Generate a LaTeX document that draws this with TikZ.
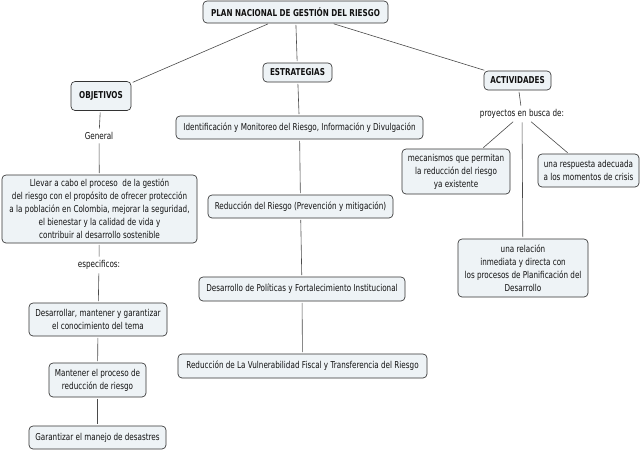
\documentclass[tikz,border=0pt]{standalone}
\usepackage{fontspec}
\setmainfont{DejaVu Sans}[FakeStretch=0.76]
\definecolor{boxfill}{HTML}{EEF3F6}
\definecolor{boxline}{HTML}{333333}
\definecolor{conn}{HTML}{4A4A4A}
\definecolor{txt}{HTML}{111111}
\tikzset{
  cbox/.style={draw=boxline, line width=0.65pt, fill=boxfill, rounded corners=4pt,
    align=center, inner sep=1pt, text=txt, font=\fontsize{9.5}{13}\selectfont},
  hbox/.style={cbox, font=\fontsize{9.5}{13}\selectfont\bfseries},
  lbl/.style={inner sep=2pt, text=txt, font=\fontsize{9.5}{13}\selectfont},
  link/.style={draw=conn, line width=0.6pt, shorten <=1.5pt, shorten >=1.5pt}
}
\begin{document}
\begin{tikzpicture}[x=1pt,y=-1pt]
\useasboundingbox[fill=white] (0,0) rectangle (640,451);
% head nodes
\node[hbox, minimum width=185pt, minimum height=22pt] (top) at (295.5,12) {PLAN NACIONAL DE GESTIÓN DEL RIESGO};
\node[hbox, minimum width=69pt, minimum height=19pt] (estr) at (297.5,72.5) {ESTRATEGIAS};
\node[hbox, minimum width=60pt, minimum height=29pt] (obj) at (101,96) {OBJETIVOS};
\node[hbox, minimum width=67pt, minimum height=19pt] (act) at (517.5,80.5) {ACTIVIDADES};
% objetivos
\node[lbl] (gen) at (99,136) {General};
\node[cbox, minimum width=195pt, minimum height=68pt] (llevar) at (99.5,209) {Llevar a cabo el proceso \ de la gestión\\del riesgo con el propósito de ofrecer protección\\a la población en Colombia, mejorar la seguridad,\\el bienestar y la calidad de vida y\\contribuir al desarrollo sostenible};
\node[lbl] (esp) at (99,265) {especificos:};
\node[cbox, minimum width=138pt, minimum height=33pt] (desa) at (98,319.5) {Desarrollar, mantener y garantizar\\el conocimiento del tema};
\node[cbox, minimum width=97pt, minimum height=34pt] (mant) at (97.5,380) {Mantener el proceso de\\reducción de riesgo};
\node[cbox, minimum width=137pt, minimum height=23pt] (gara) at (97.5,437.5) {Garantizar el manejo de desastres};
% estrategias
\node[cbox, minimum width=247pt, minimum height=23pt] (ident) at (299.5,127.5) {Identificación y Monitoreo del Riesgo, Información y Divulgación};
\node[cbox, minimum width=185pt, minimum height=23pt] (red) at (300.5,206.5) {Reducción del Riesgo (Prevención y mitigación)};
\node[cbox, minimum width=206pt, minimum height=24pt] (pol) at (302,289) {Desarrollo de Políticas y Fortalecimiento Institucional};
\node[cbox, minimum width=249pt, minimum height=24pt] (vul) at (302.5,366) {Reducción de La Vulnerabilidad Fiscal y Transferencia del Riesgo};
% actividades
\node[lbl] (proy) at (522,114) {proyectos en busca de:};
\node[cbox, minimum width=108pt, minimum height=45pt] (meca) at (456,171.5) {mecanismos que permitan\\la reducción del riesgo\\ya existente};
\node[cbox, minimum width=101pt, minimum height=33pt] (resp) at (588.5,170.5) {una respuesta adecuada\\a los momentos de crisis};
\node[cbox, minimum width=130pt, minimum height=58pt] (rel) at (523,268) {una relación\\inmediata y directa con\\los procesos de Planificación del\\Desarrollo};
% connectors
\draw[link] (top) -- (obj);
\draw[link] (top) -- (estr);
\draw[link] (top) -- (act);
\draw[link] (obj) -- (gen);
\draw[link] (gen) -- (llevar);
\draw[link] (llevar) -- (esp);
\draw[link] (esp) -- (desa);
\draw[link] (desa) -- (mant);
\draw[link] (mant) -- (gara);
\draw[link] (estr) -- (ident);
\draw[link] (ident) -- (red);
\draw[link] (red) -- (pol);
\draw[link] (pol) -- (vul);
\draw[link] (act) -- (proy);
\draw[link] (proy) -- (meca);
\draw[link] (proy) -- (resp);
\draw[link] (proy) -- (rel);
\end{tikzpicture}
\end{document}
